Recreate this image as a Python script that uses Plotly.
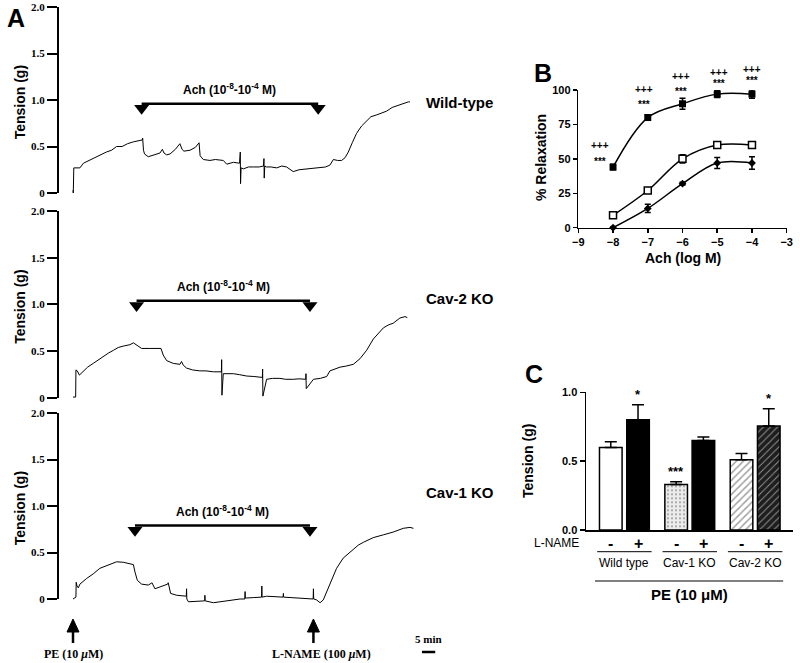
import plotly.graph_objects as go

W, H = 800, 663

# ---------------- Panel A: isometric tension recordings (time in min, tension in g)
wt_time = [0.0, 0.1, 0.3, 1.5, 2.6, 3.9, 6.0, 8.0, 10.1, 12.5, 14.5, 16.4, 18.5, 20.5, 22.7, 24.5, 26.0, 26.2, 26.5, 26.9,
           28.3, 30.5, 32.7, 33.6, 34.2, 35.2, 36.5, 38.5, 40.2, 41.0, 41.7, 44.0, 46.0, 47.4, 47.8, 49.0, 51.5, 53.5,
           55.3, 56.5, 57.8, 60.3, 62.6, 62.9, 63.0, 63.2, 64.1, 66.0, 67.8, 70.0, 71.6, 71.8, 71.9, 72.1, 72.8, 74.5,
           76.6, 78.5, 80.3, 82.8, 85.0, 87.8, 90.5, 92.9, 95.0, 96.6, 97.9, 99.5, 101.0, 102.3, 103.5, 105.0, 106.6,
           108.5, 110.4, 112.0, 114.2, 116.0, 117.9, 120.0, 122.9, 124.5, 126.1, 126.7]
wt_tension = [0.03, 0.0, 0.27, 0.27, 0.27, 0.32, 0.35, 0.38, 0.41, 0.44, 0.46, 0.50, 0.50, 0.53, 0.55, 0.56, 0.57, 0.59,
              0.46, 0.42, 0.39, 0.41, 0.43, 0.47, 0.43, 0.41, 0.42, 0.47, 0.53, 0.47, 0.45, 0.46, 0.49, 0.54, 0.40,
              0.36, 0.35, 0.36, 0.35, 0.35, 0.31, 0.33, 0.32, 0.44, 0.10, 0.27, 0.26, 0.28, 0.28, 0.28, 0.29, 0.37,
              0.16, 0.29, 0.28, 0.28, 0.27, 0.29, 0.28, 0.23, 0.25, 0.26, 0.27, 0.28, 0.28, 0.30, 0.36, 0.35, 0.35,
              0.38, 0.44, 0.54, 0.64, 0.72, 0.78, 0.82, 0.84, 0.86, 0.88, 0.92, 0.95, 0.97, 0.98, 0.98]

cav2_time = [0.0, 1.0, 1.1, 1.6, 2.4, 3.9, 5.5, 7.6, 9.5, 11.4, 13.3, 15.2, 17.0, 18.9, 21.4, 22.7, 23.9, 25.8, 28.9,
             31.0, 33.1, 33.9, 35.2, 37.7, 40.2, 40.8, 41.5, 42.7, 45.0, 47.7, 50.0, 52.8, 55.8, 55.9, 56.0, 56.5,
             60.3, 62.5, 65.3, 68.0, 71.2, 71.3, 71.4, 72.8, 75.0, 77.8, 80.0, 82.8, 85.0, 87.5, 87.6, 87.7, 90.4,
             93.0, 95.4, 96.6, 98.5, 100.4, 102.5, 104.2, 105.4, 107.9, 110.4, 112.9, 116.7, 118.5, 120.4, 122.9,
             124.8, 125.7]
cav2_tension = [0.01, 0.01, 0.30, 0.29, 0.245, 0.29, 0.33, 0.37, 0.41, 0.44, 0.48, 0.51, 0.54, 0.555, 0.57, 0.59, 0.57,
                0.53, 0.53, 0.53, 0.53, 0.46, 0.40, 0.37, 0.36, 0.39, 0.35, 0.32, 0.30, 0.29, 0.29, 0.28, 0.28, 0.41,
                0.03, 0.26, 0.26, 0.25, 0.235, 0.23, 0.22, 0.31, 0.02, 0.20, 0.21, 0.21, 0.20, 0.20, 0.205, 0.20,
                0.26, 0.10, 0.20, 0.21, 0.23, 0.29, 0.31, 0.33, 0.34, 0.355, 0.36, 0.42, 0.51, 0.63, 0.75, 0.78,
                0.80, 0.855, 0.87, 0.86]

cav1_time = [0.0, 0.8, 1.1, 1.2, 1.5, 2.0, 2.6, 5.1, 7.6, 10.1, 12.6, 14.5, 16.4, 18.9, 22.0, 22.7, 23.3, 24.2, 25.8,
             28.3, 29.5, 29.7, 30.8, 32.7, 35.6, 35.8, 36.7, 39.0, 42.6, 42.7, 42.8, 43.4, 47.7, 49.5, 49.6, 49.7,
             52.8, 55.0, 57.8, 60.0, 62.8, 64.6, 64.7, 64.8, 67.8, 70.9, 71.0, 71.1, 72.8, 76.0, 79.0, 79.1, 79.2,
             82.0, 85.3, 88.0, 90.3, 90.4, 90.5, 91.6, 92.9, 94.1, 95.3, 96.6, 97.9, 99.1, 101.6, 103.5, 105.4,
             107.3, 109.2, 112.9, 116.7, 120.4, 124.2, 126.7, 128.0]
cav1_tension = [0.0, 0.02, 0.02, 0.18, 0.14, 0.12, 0.16, 0.22, 0.27, 0.33, 0.36, 0.38, 0.40, 0.395, 0.38, 0.37, 0.29,
                0.20, 0.16, 0.15, 0.17, 0.175, 0.11, 0.13, 0.16, 0.175, 0.06, 0.04, 0.03, 0.11, 0.0, -0.03, -0.02,
                -0.02, 0.04, -0.02, -0.04, -0.03, -0.02, -0.01, 0.0, 0.0, 0.08, 0.01, 0.015, 0.02, 0.14, 0.02, 0.03,
                0.025, 0.02, 0.06, 0.02, 0.015, 0.01, 0.005, 0.0, 0.11, 0.0, -0.01, -0.04, -0.01, 0.07, 0.17, 0.25,
                0.33, 0.44, 0.49, 0.54, 0.58, 0.61, 0.66, 0.69, 0.72, 0.76, 0.77, 0.76]

trace_names = ["Wild-type", "Cav-2 KO", "Cav-1 KO"]
ach_start = [25.8, 23.9, 23.3]
ach_end = [92.2, 89.1, 89.1]
ach_level = [0.96, 1.04, 0.79]
pe_time = 0.0
lname_time = 90.4
scale_bar_min = 5
a_ticks = [0, 0.5, 1.0, 1.5, 2.0]
a_ticklabels = ["0", "0.5", "1.0", "1.5", "2.0"]

# ---------------- Panel B: concentration-response
ach_log = [-8, -7, -6, -5, -4]
relax_filled = [44, 80, 90, 97, 97]
relax_filled_err = [2, 2, 4, 2.5, 3]
relax_open = [9, 27, 50, 60, 60]
relax_open_err = [1, 2, 3, 1, 1]
relax_diamond = [0, 14, 32, 47, 47]
relax_diamond_err = [0.5, 3, 1, 4, 4.5]
sig_y_plus = [59.5, 100.7, 110, 113, 115]
sig_y_star = [49.9, 91.5, 100.7, 107, 108.5]
sig_x = [-8.37, -7.1, -6.03, -4.94, -4.0]

# ---------------- Panel C: bar chart
groups = ["Wild type", "Cav-1 KO", "Cav-2 KO"]
lname = ["-", "+"]
c_means = [0.60, 0.80, 0.33, 0.65, 0.51, 0.755]
c_errs = [0.04, 0.11, 0.02, 0.025, 0.045, 0.125]
c_sig = ["", "*", "***", "", "", "*"]

SANS = "Liberation Sans"
SERIF = "Liberation Serif"


def pyp(py):
    return 1 - py / H


def pxp(px):
    return px / W


def ann(x, y, text, size, family=SANS, xref="paper", yref="paper", angle=0, xanchor="center",
        yanchor="middle"):
    return dict(x=x, y=y, xref=xref, yref=yref, text=text, showarrow=False, textangle=angle,
                xanchor=xanchor, yanchor=yanchor, font=dict(family=family, size=size, color="black"))


fig = go.Figure()
annotations = []
shapes = []
layout_axes = {}

# ---- Panel A layout
A_xdom = [pxp(58), pxp(450)]
A_xrange = [-5.64, 141.75]
A_yrange = [-0.1, 2.05]
A_ypix = [(202.3, 2.35), (407.35, 206.3), (608.3, 408.35)]
A_label_py = [102, 298, 492]
series = [(wt_time, wt_tension), (cav2_time, cav2_tension), (cav1_time, cav1_tension)]
min_per_px = (A_xrange[1] - A_xrange[0]) / (450 - 58)

for i in range(3):
    n = i + 1
    xs = "x" if n == 1 else f"x{n}"
    ys = "y" if n == 1 else f"y{n}"
    t, g = series[i]
    fig.add_trace(go.Scatter(x=t, y=g, mode="lines", line=dict(color="black", width=1),
                             xaxis=xs, yaxis=ys, showlegend=False, name=trace_names[i]))
    fig.add_trace(go.Scatter(x=[ach_start[i], ach_end[i]], y=[ach_level[i], ach_level[i]], mode="lines",
                             line=dict(color="black", width=2.5), xaxis=xs, yaxis=ys, showlegend=False))
    fig.add_trace(go.Scatter(x=[ach_start[i], ach_end[i]], y=[ach_level[i] - 0.05, ach_level[i] - 0.05],
                             mode="markers", marker=dict(symbol="triangle-down", size=13, color="black"),
                             xaxis=xs, yaxis=ys, showlegend=False, cliponaxis=False))
    annotations.append(ann((ach_start[i] + ach_end[i]) / 2, ach_level[i] + 0.16,
                           "<b>Ach (10<sup>-8</sup>-10<sup>-4</sup> M)</b>", 12, xref=xs, yref=ys))
    annotations.append(ann(pxp(424), pyp(A_label_py[i]), f"<b>{trace_names[i]}</b>", 15, xanchor="left"))
    pb, pt = A_ypix[i]
    ydom = [pyp(pb), pyp(pt)]
    annotations.append(ann(pxp(20), (ydom[0] + ydom[1]) / 2, "<b>Tension (g)</b>", 14, angle=-90))
    layout_axes["xaxis" if n == 1 else f"xaxis{n}"] = dict(domain=A_xdom, range=A_xrange, visible=False,
                                                            anchor=ys, fixedrange=True, automargin=False)
    layout_axes["yaxis" if n == 1 else f"yaxis{n}"] = dict(
        domain=ydom, range=A_yrange, anchor=xs, tickvals=a_ticks, ticktext=a_ticklabels, ticks="outside",
        ticklen=10, tickwidth=2, tickcolor="black", showline=False, showgrid=False, zeroline=False,
        fixedrange=True, automargin=False, tickfont=dict(family=SERIF, size=11, color="black", weight="bold"))
    shapes.append(dict(type="line", xref=f"{xs} domain", yref=ys, x0=0, x1=0, y0=0, y1=2.0,
                       line=dict(color="black", width=2)))

# PE and L-NAME arrows (shaft + head) with labels
arrow_times = [pe_time, lname_time]
arrow_labels = ["PE (10 <i>μ</i>M)", "L-NAME (100 <i>μ</i>M)"]
label_offsets = [0.0, 3.2]
hw = 6 * min_per_px
for tx in arrow_times:
    shapes.append(dict(type="line", xref="x3", yref="paper", x0=tx, x1=tx, y0=pyp(643), y1=pyp(630),
                       line=dict(color="black", width=2.5)))
    shapes.append(dict(type="path", xref="x3", yref="paper",
                       path=f"M {tx - hw},{pyp(632)} L {tx},{pyp(619)} L {tx + hw},{pyp(632)} Z",
                       fillcolor="black", line=dict(color="black", width=1)))
for tx, lab, off in zip(arrow_times, arrow_labels, label_offsets):
    annotations.append(ann(tx + off, pyp(654), f"<b>{lab}</b>", 12, family=SERIF, xref="x3"))

# 5-min scale bar
shapes.append(dict(type="line", xref="x3", yref="paper", x0=131.2, x1=131.2 + scale_bar_min,
                   y0=pyp(652), y1=pyp(652), line=dict(color="black", width=2.5)))
annotations.append(ann(131.2 + scale_bar_min / 2, pyp(639), f"<b>{scale_bar_min} min</b>", 11, family=SERIF,
                       xref="x3"))
annotations.append(ann(pxp(16), pyp(18), "<b>A</b>", 25))

# ---- Panel B
B_xdom = [pxp(578.3), pxp(786.7)]
B_ydom = [pyp(227.7), pyp(90)]
B_xrange = [-9, -3]
B_yrange = [0, 100]


def b_paper(x, y):
    px = B_xdom[0] + (x - B_xrange[0]) / (B_xrange[1] - B_xrange[0]) * (B_xdom[1] - B_xdom[0])
    py = B_ydom[0] + (y - B_yrange[0]) / (B_yrange[1] - B_yrange[0]) * (B_ydom[1] - B_ydom[0])
    return px, py


eb = dict(type="data", thickness=1.5, width=3, color="black")
fig.add_trace(go.Scatter(x=ach_log, y=relax_filled, mode="lines+markers",
                         line=dict(color="black", width=1.5, shape="spline"),
                         marker=dict(symbol="square", size=7, color="black"),
                         error_y=dict(array=relax_filled_err, **eb), xaxis="x4", yaxis="y4",
                         showlegend=False, cliponaxis=False, name="Cav-1 KO"))
fig.add_trace(go.Scatter(x=ach_log, y=relax_open, mode="lines+markers",
                         line=dict(color="black", width=1.5, shape="spline"),
                         marker=dict(symbol="square", size=7, color="white", line=dict(color="black", width=1.5)),
                         error_y=dict(array=relax_open_err, **eb), xaxis="x4", yaxis="y4",
                         showlegend=False, cliponaxis=False, name="Wild-type"))
fig.add_trace(go.Scatter(x=ach_log, y=relax_diamond, mode="lines+markers",
                         line=dict(color="black", width=1.5, shape="spline"),
                         marker=dict(symbol="diamond", size=6, color="black"),
                         error_y=dict(array=relax_diamond_err, **eb), xaxis="x4", yaxis="y4",
                         showlegend=False, cliponaxis=False, name="Cav-2 KO"))
for sx, yp, ysig in zip(sig_x, sig_y_plus, sig_y_star):
    ax_, ay_ = b_paper(sx, yp)
    annotations.append(ann(ax_, ay_, "<b>+++</b>", 10))
    ax_, ay_ = b_paper(sx, ysig)
    annotations.append(ann(ax_, ay_ - 0.004, "<b>***</b>", 10))
layout_axes["xaxis4"] = dict(domain=B_xdom, range=B_xrange, anchor="y4", fixedrange=True, automargin=False,
                             tickvals=[-9, -8, -7, -6, -5, -4, -3], ticks="outside", ticklen=4, tickwidth=1.5,
                             tickcolor="black", showline=True, linewidth=1.5, linecolor="black", showgrid=False,
                             zeroline=False, tickfont=dict(family=SANS, size=11, color="black", weight="bold"))
layout_axes["yaxis4"] = dict(domain=B_ydom, range=B_yrange, anchor="x4", fixedrange=True, automargin=False,
                             tickvals=[0, 25, 50, 75, 100], ticks="outside", ticklen=4, tickwidth=1.5,
                             tickcolor="black", showline=True, linewidth=1.5, linecolor="black", showgrid=False,
                             zeroline=False, tickfont=dict(family=SANS, size=11, color="black", weight="bold"))
annotations.append(ann(pxp(683), pyp(258), "<b>Ach (log M)</b>", 14))
annotations.append(ann(pxp(541), pyp(158), "<b>% Relaxation</b>", 14, angle=-90))
annotations.append(ann(pxp(543), pyp(73), "<b>B</b>", 25))

# ---- Panel C
c_pos = [gi * 2.4 + li for gi in range(len(groups)) for li in range(len(lname))]
fig.add_trace(go.Bar(
    x=c_pos, y=c_means, width=0.83, xaxis="x5", yaxis="y5", showlegend=False,
    marker=dict(color=["white", "black", "#ececec", "black", "white", "#1e1e1e"],
                line=dict(color="black", width=1.5),
                pattern=dict(shape=["", "", ".", "", "/", "/"],
                             fgcolor=["black", "black", "#8a8a8a", "black", "#222222", "#d0d0d0"],
                             size=[6, 6, 4, 6, 5, 5], solidity=[0.3, 0.3, 0.2, 0.3, 0.3, 0.2],
                             fillmode="overlay")),
    error_y=dict(type="data", array=c_errs, arrayminus=[0] * len(c_errs), symmetric=False,
                 thickness=1.5, width=6, color="black")))
for p, m, e, s in zip(c_pos, c_means, c_errs, c_sig):
    if s:
        annotations.append(ann(p, m + e + 0.005, f"<b>{s}</b>", 13, xref="x5", yref="y5", yanchor="bottom"))
for p, li in zip(c_pos, [l for _ in groups for l in lname]):
    annotations.append(ann(p, pyp(543), f"<b>{li}</b>", 16, xref="x5"))
annotations.append(ann(pxp(556.7), pyp(543), "L-NAME", 12))
for gi, gname in enumerate(groups):
    g0 = c_pos[gi * 2]
    shapes.append(dict(type="line", xref="x5", yref="paper", x0=g0 - 0.5, x1=g0 + 1.5, y0=pyp(551.7),
                       y1=pyp(551.7), line=dict(color="black", width=1)))
    annotations.append(ann(g0 + 0.5, pyp(563), gname, 12, xref="x5"))
shapes.append(dict(type="line", xref="x5", yref="paper", x0=c_pos[0] - 0.58, x1=c_pos[-1] + 0.53,
                   y0=pyp(581), y1=pyp(581), line=dict(color="black", width=1)))
annotations.append(ann((c_pos[0] + c_pos[-1]) / 2, pyp(594), "<b>PE (10 μM)</b>", 15, xref="x5"))
layout_axes["xaxis5"] = dict(domain=[pxp(586), pxp(793)], range=[-0.91, 6.69], anchor="y5", fixedrange=True,
                             automargin=False, showticklabels=False, ticks="", showline=True, linewidth=1.5,
                             linecolor="black", showgrid=False, zeroline=False)
layout_axes["yaxis5"] = dict(domain=[pyp(530), pyp(392.3)], range=[0, 1.0], anchor="x5", fixedrange=True,
                             automargin=False, tickvals=[0, 0.5, 1.0], ticktext=["0.0", "0.5", "1.0"],
                             ticks="outside", ticklen=5, tickwidth=1.5, tickcolor="black", showline=True,
                             linewidth=1.5, linecolor="black", showgrid=False, zeroline=False,
                             tickfont=dict(family=SANS, size=11, color="black", weight="bold"))
annotations.append(ann(pxp(528), pyp(461), "<b>Tension (g)</b>", 14, angle=-90))
annotations.append(ann(pxp(534), pyp(374), "<b>C</b>", 25))

fig.update_layout(width=W, height=H, margin=dict(l=0, r=0, t=0, b=0, autoexpand=False), paper_bgcolor="white",
                  plot_bgcolor="white", annotations=annotations, shapes=shapes, showlegend=False,
                  dragmode=False, **layout_axes)

fig.write_html("out.html",
               post_script="document.body.style.margin='0';document.body.style.overflow='hidden';",
               config={"displayModeBar": False, "staticPlot": True})
